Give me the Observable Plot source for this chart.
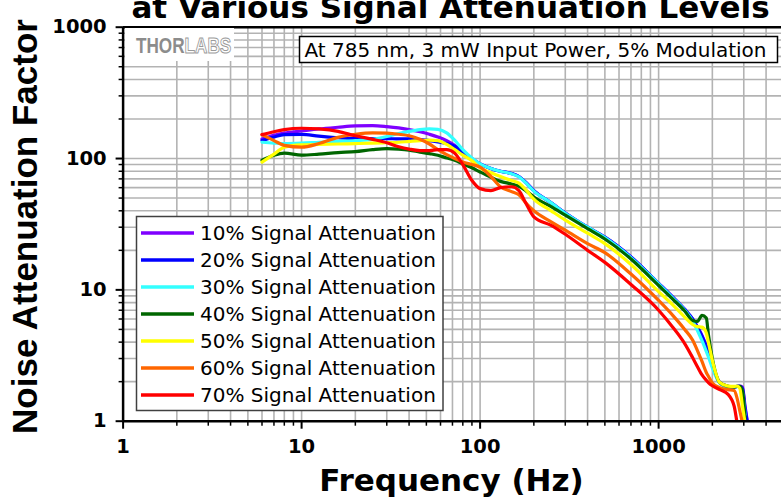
<!DOCTYPE html>
<html><head><meta charset="utf-8">
<script src="https://cdn.jsdelivr.net/npm/d3@7"></script>
<script src="https://cdn.jsdelivr.net/npm/@observablehq/plot@0.6"></script>
<style>
html,body{margin:0;padding:0;background:#fff;overflow:hidden;}
#chart{position:relative;width:781px;height:504px;overflow:hidden;}
</style></head><body><div id="chart"></div>
<script>
const titleText = "at Various Signal Attenuation Levels";
const yLabel = "Noise Attenuation Factor";
const xLabel = "Frequency (Hz)";
const noteText = "At 785 nm, 3 mW Input Power, 5% Modulation";
const logoA = "THOR", logoB = "LABS";

const seriesNames = ["10% Signal Attenuation","20% Signal Attenuation","30% Signal Attenuation","40% Signal Attenuation","50% Signal Attenuation","60% Signal Attenuation","70% Signal Attenuation"];
const seriesColors = ["#7f00ff","#0000ff","#33ffff","#006600","#ffff00","#ff6600","#ff0000"];

const xMajor = [1, 10, 100, 1000];
const yMajor = [1, 10, 100, 1000];

const freq = [6,7,8,10,12.5,16,20,25,30,35,40,46,52,58,65,72,80,90,100,115,130,150,165,180,200,250,300,400,500,700,1000,1200,1400,1550,1650,1750,1850,1900,2000,2200,2450,2650,2750,2850,2950,3050,3150];

const att10 = [141,150,156,162,168,173,177,178,175,171,166,160,153,146,137,126,112,100,91,84,80,77,73,66,57,46,38.5,30,25.2,17.8,11.2,8.8,7.1,6.0,5.2,4.5,3.75,3.35,2.7,1.97,1.84,1.82,1.84,1.85,1.82,1.3,0.97];
const att20 = [137,146,152,153,148,144,142,142,142,141,141,139,137,134,130,124,112,99,91,84,80,77,73,66,57,46,38.5,30,25.2,17.8,11.2,8.8,7.1,6.0,5.2,4.45,3.7,3.3,2.65,1.96,1.83,1.82,1.84,1.84,1.78,1.25,0.96];
const att30 = [133,131,130,131,133,135,137,140,147,155,161,166,168,167,157,138,117,101,91,84,80,76.5,72.5,65.5,56.5,46,38.3,30,25,17.6,11.1,8.7,7.0,5.8,4.9,4.1,3.4,3.1,2.55,1.95,1.83,1.82,1.84,1.82,1.65,1.12,null];
const att40 = [97,106,110,106,108,111,113,117,119,118,116,112,109,106,101,97,91,85,79,72,67,64,61.5,57,51,43,37,29.3,24.4,17.2,10.8,8.5,6.9,5.85,5.75,6.4,6.1,4.6,3.0,1.97,1.84,1.82,1.84,1.84,1.7,1.05,null];
const att50 = [94,108,122,127,128,129,130,131,132,133,135,137,138,137,128,117,106,96,85,78,73,68,65,58,49,40,34,27,22.5,15.6,9.7,7.7,6.2,5.45,5.25,5.2,4.7,4.0,2.9,1.97,1.85,1.84,1.85,1.78,1.3,0.97,null];
const att60 = [152,137,126,122,130,145,153,157,156,153,149,140,129,117,107,100,94,90,86,73,61,56,53,46,40,33,28.5,22.5,19.2,13.2,8.3,6.4,5.0,4.15,3.45,2.85,2.35,2.2,1.95,1.8,1.74,1.71,1.5,1.2,0.97,null,null];
const att70 = [152,160,166,170,168,161,149,140,132,123,118,115,115,117,117,110,90,68,59,57,60,61,57,46,36,31,26.5,20,16.2,11,7.0,5.2,3.9,3.05,2.6,2.25,2.05,1.97,1.86,1.74,1.6,1.3,0.97,null,null,null,null];

const allSeries = [att10, att20, att30, att40, att50, att60, att70];
const rows = [];
allSeries.forEach((vals, i) => vals.forEach((v, j) => { if (v != null) rows.push({f: freq[j], v, s: seriesNames[i]}); }));

const minorOf = (majors, max) => majors.flatMap(m => d3.range(1, 10).map(k => k * m)).filter(d => d <= max);
const xGrid = minorOf(xMajor, 4880);
const yGrid = minorOf(yMajor, 1000);
const xMinor = xGrid.filter(d => !xMajor.includes(d));
const yMinor = yGrid.filter(d => !yMajor.includes(d));

const plot = Plot.plot({
  width: 781, height: 504,
  marginTop: 26.7, marginBottom: 83.3, marginLeft: 122.6, marginRight: 0,
  style: {background: "white", overflow: "hidden"},
  x: {type: "log", domain: [1, 4880]},
  y: {type: "log", domain: [1, 1000]},
  color: {domain: seriesNames, range: seriesColors},
  marks: [
    Plot.ruleX(xGrid, {stroke: "#b3b3b3", strokeWidth: 1.6}),
    Plot.ruleY(yGrid, {stroke: "#b3b3b3", strokeWidth: 1.6}),
    Plot.line(rows, {x: "f", y: "v", stroke: "s", z: "s", strokeWidth: 3.2, curve: "monotone-x", clip: true}),
    Plot.ruleY([1000], {stroke: "black", strokeWidth: 2.5}),
    Plot.ruleX([1], {stroke: "black", strokeWidth: 2.5}),
    Plot.ruleY([1], {stroke: "black", strokeWidth: 2.5}),
    Plot.axisX(xMinor, {tickSize: 5, tickFormat: () => "", strokeWidth: 1.5, label: null, color: "black"}),
    Plot.axisX(xMajor, {tickSize: 8, tickPadding: 10, tickFormat: d => String(d), fontSize: 19.5, fontWeight: "bold", fontFamily: "DejaVu Sans", strokeWidth: 2, label: null, color: "black"}),
    Plot.axisY(yMinor, {tickSize: 4, tickFormat: () => "", strokeWidth: 1.5, label: null, color: "black"}),
    Plot.axisY(yMajor, {tickSize: 7, tickPadding: 9.5, tickFormat: d => String(d), fontSize: 19.5, fontWeight: "bold", fontFamily: "DejaVu Sans", strokeWidth: 2, label: null, color: "black"})
  ]
});
document.getElementById("chart").appendChild(plot);

const svg = d3.select(plot);
svg.append("text").attr("x", 450.5).attr("y", 18).attr("text-anchor", "middle")
  .style("font", "bold 31px 'DejaVu Sans'").attr("fill", "black").text(titleText);
svg.append("text").attr("transform", "translate(37,226.5) rotate(-90)").attr("text-anchor", "middle")
  .style("font", "bold 35px 'Liberation Sans'").attr("fill", "black").text(yLabel);
svg.append("text").attr("x", 451.5).attr("y", 491).attr("text-anchor", "middle")
  .style("font", "bold 31px 'DejaVu Sans'").attr("fill", "black").text(xLabel);

// logo
svg.append("rect").attr("x", 125).attr("y", 28).attr("width", 109).attr("height", 33).attr("fill", "white");
const logo = svg.append("text").attr("transform", "translate(136,53) scale(0.78,1)").attr("text-anchor", "start")
  .style("font", "bold 22px 'Liberation Sans'");
logo.append("tspan").attr("fill", "#8c8c8c").text(logoA);
logo.append("tspan").attr("fill", "white").attr("stroke", "#9a9a9a").attr("stroke-width", 1).text(logoB);

// note box
svg.append("rect").attr("x", 299.5).attr("y", 36.5).attr("width", 478).attr("height", 26)
  .attr("fill", "white").attr("stroke", "black").attr("stroke-width", 1.5);
svg.append("text").attr("x", 304.5).attr("y", 56.8).attr("text-anchor", "start")
  .style("font", "20px 'DejaVu Sans'").attr("fill", "black").text(noteText);

// legend
svg.append("rect").attr("x", 136.5).attr("y", 216.5).attr("width", 306.5).attr("height", 194)
  .attr("fill", "white").attr("stroke", "#404040").attr("stroke-width", 1.5);
seriesNames.forEach((name, i) => {
  const cy = 233 + 27 * i;
  svg.append("line").attr("x1", 141).attr("x2", 194).attr("y1", cy).attr("y2", cy)
    .attr("stroke", seriesColors[i]).attr("stroke-width", 3.5);
  svg.append("text").attr("x", 200).attr("y", cy + 7.3).attr("text-anchor", "start")
    .style("font", "20px 'DejaVu Sans'").attr("fill", "black").text(name);
});
</script></body></html>
